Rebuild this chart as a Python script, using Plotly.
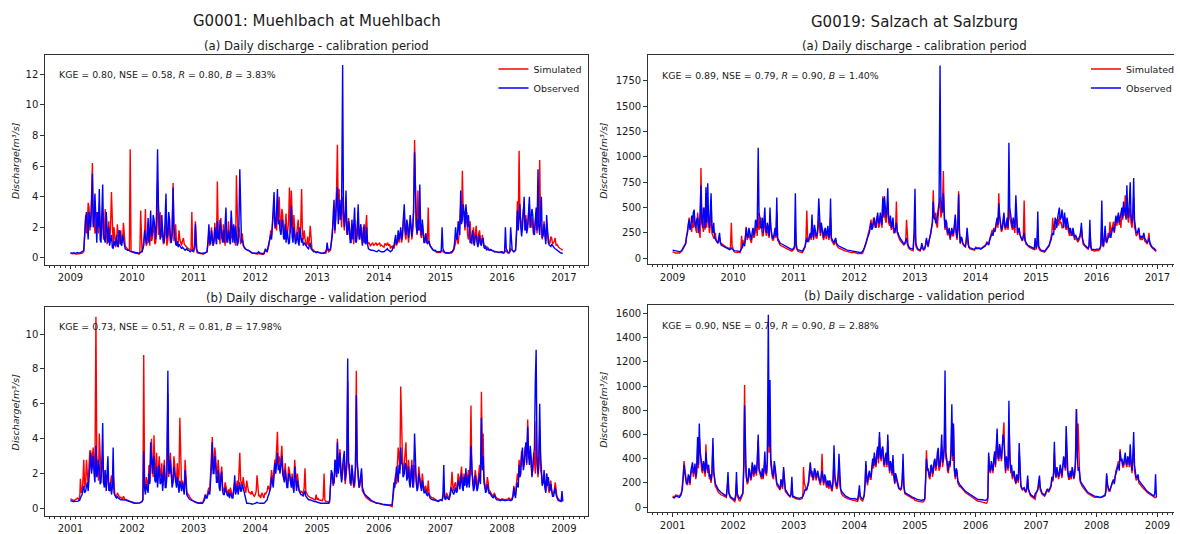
import pandas as pd
import plotly.graph_objects as go

# ---------------- data ----------------
# MAIN values are read on the 1st, 11th and 21st of each month,
# MID values on the 6th, 16th and 26th (one line per year, 12 months x 3 values).
CAL_START = 2009
VAL_START = 2001

# G0001 Muehlbach - calibration 2009-2016 (m3/s)
MUEHL_CAL_SIM = [
    0.3,0.25,0.3, 0.25,0.25,0.25, 0.3,0.3,0.4, 2.8,2.2,3.3, 2.5,6.2,3.0, 1.8,2.5,3.5, 1.3,3.0,1.5, 2.0,1.3,1.0, 4.3,0.8,1.0, 1.0,1.5,1.2, 0.9,2.3,0.8, 0.6,0.5,7.1,
    0.4,0.35,0.3, 0.3,0.25,3.1, 0.4,1.0,3.2, 1.0,1.2,2.0, 1.3,1.8,1.0, 5.0,2.5,1.3, 1.5,1.0,2.5, 1.2,2.0,1.0, 4.9,1.5,1.0, 1.0,1.2,0.8, 1.3,0.8,0.7, 0.6,0.5,3.0,
    0.4,2.4,0.35, 0.3,0.25,0.25, 0.25,0.3,0.4, 1.7,1.0,1.2, 1.2,1.3,5.0, 1.5,2.6,1.2, 1.3,2.0,1.2, 1.5,2.6,1.2, 1.2,5.4,1.0, 1.5,1.2,0.8, 0.6,0.55,0.5, 0.4,0.3,0.3,
    0.25,0.25,0.3, 0.25,0.2,0.25, 0.5,0.4,0.8, 1.8,2.0,3.5, 2.5,3.8,4.0, 2.0,2.8,1.5, 2.9,1.8,4.6, 4.4,1.3,2.0, 1.5,2.5,1.2, 4.5,1.2,1.0, 0.9,0.8,2.1, 0.6,0.5,0.4,
    0.4,0.35,0.3, 0.3,0.3,0.3, 0.8,0.4,0.5, 1.8,3.0,3.0, 7.4,4.5,3.0, 4.0,1.8,3.6, 1.8,2.2,1.3, 1.5,2.5,1.3, 3.0,1.5,1.3, 2.0,1.3,2.8, 0.9,0.8,0.9, 0.8,0.9,0.8,
    0.9,0.8,0.8, 0.7,0.9,1.0, 0.8,0.6,0.7, 0.6,1.2,1.0, 1.0,1.8,1.3, 3.0,1.2,2.0, 1.5,2.0,1.8, 7.7,2.0,4.4, 2.5,1.3,1.5, 1.2,1.0,3.3, 0.8,0.6,0.5, 0.4,0.35,0.35,
    0.35,0.5,0.35, 0.3,0.3,0.3, 0.3,0.35,0.5, 1.0,1.2,1.5, 3.5,5.7,3.0, 2.5,1.5,1.8, 1.2,1.5,1.0, 2.1,1.0,1.8, 1.0,1.2,0.8, 0.6,0.6,0.5, 0.5,0.45,0.4, 0.4,0.35,0.35,
    0.35,0.3,0.5, 0.35,0.3,0.6, 0.5,0.4,0.5, 3.7,7.0,2.5, 2.5,3.0,2.8, 2.2,3.5,2.0, 2.2,1.8,3.0, 3.5,6.4,2.0, 1.8,1.5,2.0, 1.3,1.0,1.3, 1.0,1.3,0.9, 0.7,0.6,0.5,
]
MUEHL_CAL_SIM_MID = [
    0.28,0.27,0.26, 0.25,0.25,0.28, 0.3,0.35,1.5, 1.6,3.6,1.8, 4.0,2.2,1.6, 3.0,1.6,2.0, 2.2,1.2,3.2, 0.9,2.4,1.8, 1.2,2.0,0.7, 2.2,0.9,1.8, 1.2,1.0,0.7, 0.55,0.5,0.45,
    0.38,0.32,0.3, 0.28,0.3,0.5, 0.6,1.5,0.8, 2.2,0.8,1.1, 2.4,0.9,2.0, 1.5,3.0,2.2, 0.9,1.8,0.8, 2.6,1.0,1.8, 1.1,2.2,0.8, 1.8,0.9,1.1, 0.9,0.75,0.65, 0.55,0.5,0.45,
    0.8,0.6,0.32, 0.28,0.25,0.25, 0.28,0.35,0.9, 0.8,2.0,0.8, 2.3,0.9,1.8, 0.9,1.3,2.2, 0.8,1.0,2.4, 0.9,1.3,2.0, 0.8,1.5,2.0, 0.9,1.6,0.7, 0.58,0.52,0.45, 0.35,0.3,0.28,
    0.25,0.27,0.27, 0.22,0.22,0.35, 0.45,0.6,1.2, 1.4,2.8,1.9, 1.8,2.4,2.6, 3.2,1.6,2.2, 1.2,2.4,1.6, 2.2,2.8,1.0, 2.0,1.2,2.2, 1.6,1.8,0.8, 1.4,1.2,0.8, 0.55,0.45,0.35,
    0.37,0.32,0.3, 0.3,0.3,0.5, 0.5,0.45,1.0, 2.5,1.6,4.5, 3.0,2.5,2.0, 2.5,2.6,1.5, 2.6,1.2,2.2, 0.9,1.5,2.0, 1.2,2.2,0.9, 1.0,2.0,1.1, 1.0,0.85,1.0, 0.85,1.0,0.9,
    1.0,0.85,0.75, 0.95,0.8,0.9, 0.9,0.75,0.8, 0.9,0.8,1.6, 1.4,1.0,2.2, 1.5,2.2,1.0, 2.4,1.2,3.0, 2.8,1.5,1.8, 1.5,2.2,1.0, 1.6,1.1,1.0, 0.7,0.55,0.45, 0.38,0.35,0.35,
    0.4,0.4,0.32, 0.3,0.3,0.3, 0.32,0.4,0.7, 1.5,0.9,2.2, 2.4,3.0,1.8, 3.0,1.2,2.4, 0.9,2.0,1.4, 1.2,1.6,1.0, 1.5,0.8,0.7, 0.7,0.55,0.5, 0.48,0.42,0.4, 0.38,0.35,0.35,
    0.32,0.35,0.4, 0.32,0.4,0.55, 0.45,0.45,1.5, 2.2,3.0,1.8, 3.2,1.8,2.0, 2.8,2.0,2.6, 1.5,2.6,1.6, 2.0,2.4,1.2, 2.4,1.1,1.4, 0.9,1.4,0.9, 1.1,0.8,0.75, 0.65,0.55,0.5,
]
MUEHL_CAL_OBS = [
    0.35,0.3,0.35, 0.3,0.35,0.3, 0.35,0.4,0.5, 2.5,1.8,3.0, 2.0,5.5,2.5, 1.5,3.0,4.5, 1.0,4.8,1.2, 3.0,1.0,0.8, 1.5,0.6,0.8, 1.5,0.7,1.7, 0.8,1.2,0.6, 0.5,0.5,0.4,
    0.4,0.4,0.35, 0.35,0.3,0.4, 0.4,0.8,1.2, 1.5,1.0,3.1, 1.5,2.5,1.2, 7.1,2.0,1.5, 1.8,1.2,4.2, 1.5,2.5,1.0, 4.6,1.2,0.8, 0.7,0.8,0.6, 0.6,0.5,0.6, 0.5,0.4,0.5,
    0.5,2.2,0.4, 0.35,0.3,0.3, 0.3,0.35,0.4, 2.2,0.9,1.0, 1.0,1.5,2.4, 1.2,2.0,1.0, 1.0,3.3,1.0, 1.2,3.1,1.0, 1.0,1.5,1.0, 5.8,1.0,0.8, 0.6,0.5,0.5, 0.4,0.35,0.3,
    0.3,0.3,0.4, 0.3,0.25,0.3, 0.6,0.4,1.0, 1.5,2.3,4.3, 2.0,4.5,2.5, 1.5,2.5,1.2, 1.0,1.5,1.0, 3.4,1.0,1.5, 1.2,1.0,2.0, 1.0,0.8,0.9, 0.7,0.6,1.0, 0.5,0.4,0.4,
    0.4,0.35,0.35, 0.3,0.35,0.4, 1.0,0.5,0.6, 1.5,3.8,2.5, 4.6,3.0,2.5, 12.6,2.0,4.4, 1.5,2.0,1.0, 1.2,3.3,1.0, 3.5,1.2,1.0, 1.5,1.0,2.0, 0.6,0.5,0.5, 0.5,0.45,0.4,
    0.5,0.4,0.4, 0.4,0.5,0.6, 0.5,0.4,0.5, 0.8,1.5,1.0, 1.2,2.0,1.5, 3.5,1.5,2.2, 1.8,2.3,2.0, 6.9,2.2,2.5, 4.8,1.5,1.8, 1.0,1.2,1.0, 0.8,0.6,0.5, 0.5,0.4,0.4,
    0.4,2.0,0.4, 0.35,0.35,0.3, 0.4,0.4,0.6, 2.0,1.2,2.0, 4.4,2.5,3.0, 3.5,2.0,1.5, 1.0,1.8,0.8, 1.5,0.7,1.5, 0.8,1.3,0.6, 0.5,0.6,0.5, 0.5,0.4,0.4, 0.4,0.35,0.4,
    0.4,0.35,2.0, 0.4,0.35,2.0, 0.5,0.4,0.5, 3.1,3.0,2.0, 2.0,4.0,2.5, 2.0,4.0,2.5, 2.8,1.5,3.3, 5.8,1.5,4.0, 1.5,1.2,2.8, 1.0,0.8,0.9, 0.7,0.6,0.5, 0.4,0.35,0.3,
]
MUEHL_CAL_OBS_MID = [
    0.32,0.33,0.32, 0.33,0.32,0.33, 0.37,0.45,1.8, 3.0,1.2,2.2, 3.5,2.0,4.2, 1.0,2.0,1.2, 2.5,1.5,1.0, 1.3,2.0,1.2, 0.7,1.1,1.0, 0.8,1.8,0.9, 1.5,0.7,0.55, 0.5,0.45,0.4,
    0.4,0.37,0.35, 0.32,0.35,0.4, 0.6,1.8,0.9, 2.6,1.7,1.4, 2.8,1.4,3.0, 3.5,1.2,2.8, 1.0,2.5,1.3, 3.0,1.3,1.5, 2.0,0.9,1.1, 0.9,0.65,0.7, 0.55,0.55,0.5, 0.45,0.45,0.45,
    0.7,0.6,0.37, 0.32,0.3,0.3, 0.32,0.38,1.0, 1.0,1.8,0.8, 2.0,0.9,1.3, 2.5,1.1,1.8, 2.2,1.2,1.8, 0.9,1.4,2.2, 2.1,0.8,2.2, 1.5,1.2,0.7, 0.55,0.5,0.45, 0.38,0.32,0.3,
    0.3,0.35,0.32, 0.27,0.27,0.45, 0.5,0.7,1.3, 1.2,3.0,2.2, 3.2,2.2,1.8, 2.4,1.3,2.2, 1.8,0.9,2.0, 1.4,2.0,0.9, 1.7,0.8,1.4, 1.3,1.0,0.8, 0.65,0.9,0.6, 0.45,0.4,0.35,
    0.37,0.35,0.32, 0.32,0.38,0.6, 0.6,0.55,1.0, 2.8,1.8,3.9, 2.2,3.8,3.5, 3.0,2.8,1.8, 2.4,1.0,2.5, 2.0,1.1,1.5, 1.5,2.2,0.8, 2.2,0.9,0.9, 0.55,0.5,0.5, 0.48,0.42,0.45,
    0.45,0.4,0.4, 0.45,0.55,0.5, 0.45,0.45,0.7, 1.2,0.9,1.8, 1.5,1.2,2.5, 1.8,2.5,1.3, 2.8,1.4,3.0, 3.0,1.6,1.8, 2.0,2.5,1.0, 1.6,0.9,1.1, 0.7,0.55,0.5, 0.45,0.4,0.4,
    0.5,0.6,0.37, 0.35,0.32,0.35, 0.4,0.5,1.0, 1.3,2.4,1.5, 2.2,3.5,2.0, 2.2,2.8,1.0, 1.6,1.0,1.4, 1.0,1.1,0.9, 1.2,0.7,0.8, 0.55,0.5,0.55, 0.45,0.4,0.4, 0.38,0.38,0.4,
    0.37,0.4,0.6, 0.37,0.4,0.6, 0.45,0.45,1.4, 1.8,3.5,1.4, 2.8,1.8,1.6, 3.0,2.0,3.2, 1.6,2.4,1.8, 2.0,2.6,1.3, 2.2,0.9,1.2, 0.85,0.75,0.8, 0.65,0.55,0.45, 0.38,0.32,0.3,
]

# G0019 Salzach - calibration 2009-2016 (m3/s)
SALZ_CAL_SIM = [
    65,55,50, 55,50,60, 80,110,140, 280,400,320, 380,450,280, 450,250,890, 350,500,500, 500,250,560, 220,200,170, 150,200,130, 130,120,110, 100,95,350,
    70,60,55, 60,55,220, 180,150,310, 220,200,150, 250,220,300, 450,350,300, 220,400,220, 250,400,220, 180,250,450, 160,130,120, 110,100,90, 80,75,70,
    85,300,80, 65,60,55, 80,110,470, 160,220,380, 180,260,200, 400,220,280, 180,250,220, 180,400,160, 130,180,110, 100,90,85, 75,70,65, 65,60,55,
    55,50,45, 45,40,50, 90,140,220, 280,380,320, 380,320,420, 320,380,610, 500,350,550, 320,280,350, 250,560,220, 180,160,140, 140,380,110, 85,80,75,
    300,90,80, 70,120,80, 90,180,110, 220,280,670, 380,330,420, 600,450,860, 280,300,230, 180,280,220, 400,180,660, 140,180,120, 110,250,100, 90,85,80,
    110,100,105, 95,105,115, 130,160,140, 220,280,300, 280,380,640, 320,280,420, 280,350,600, 350,280,300, 500,230,280, 200,170,570, 140,120,110, 100,90,85,
    90,300,80, 70,65,60, 80,100,120, 200,400,330, 320,380,420, 350,300,400, 280,300,220, 220,280,180, 180,160,200, 300,140,120, 100,90,250, 80,75,70,
    80,75,90, 300,110,250, 170,250,360, 280,360,320, 320,420,380, 450,520,620, 550,350,500, 300,600,280, 230,280,180, 180,230,160, 140,250,120, 100,90,70,
]
SALZ_CAL_SIM_MID = [
    60,52,52, 52,55,70, 95,120,200, 320,300,260, 300,320,250, 300,200,420, 260,280,300, 300,320,250, 200,250,160, 170,150,140, 125,115,105, 98,110,120,
    65,58,57, 57,80,100, 130,220,180, 260,160,220, 200,320,220, 280,400,220, 300,260,300, 200,270,180, 220,200,180, 140,125,115, 105,95,85, 78,72,75,
    100,110,70, 62,58,65, 95,200,200, 200,180,230, 300,200,260, 250,300,200, 260,190,280, 230,180,140, 160,130,105, 95,88,80, 72,68,65, 62,58,60,
    52,48,45, 42,45,70, 110,170,250, 320,300,400, 300,400,300, 420,300,400, 380,450,350, 380,300,250, 300,250,200, 170,150,130, 160,150,95, 82,78,200,
    120,85,75, 90,95,85, 130,140,160, 250,350,400, 450,300,500, 400,550,400, 350,230,280, 230,220,300, 250,300,250, 200,140,115, 160,140,95, 88,82,80,
    105,100,100, 100,110,125, 145,150,180, 260,240,260, 330,300,400, 260,350,300, 320,280,400, 300,330,250, 300,260,230, 180,220,200, 130,115,105, 95,88,90,
    120,100,75, 68,62,70, 90,110,160, 250,280,280, 380,320,350, 300,350,320, 330,250,260, 250,220,200, 170,180,220, 180,130,110, 95,120,100, 78,72,75,
    78,80,120, 130,180,160, 210,200,250, 320,250,380, 370,330,300, 380,420,400, 400,450,350, 400,300,220, 260,200,210, 200,170,150, 180,140,110, 95,80,70,
]
SALZ_CAL_OBS = [
    80,75,70, 70,65,70, 90,120,150, 250,380,300, 350,480,300, 400,300,720, 300,450,700, 740,300,640, 250,200,180, 150,250,130, 120,110,100, 90,85,100,
    80,75,70, 70,65,100, 150,120,300, 200,250,180, 300,250,350, 1090,400,300, 250,500,250, 300,500,250, 200,300,600, 180,150,140, 130,120,110, 100,90,85,
    100,640,90, 80,75,70, 90,120,200, 180,250,430, 200,280,220, 590,250,300, 200,300,250, 200,590,180, 150,200,130, 120,110,100, 90,85,80, 80,75,70,
    70,65,60, 60,55,70, 100,150,200, 250,350,300, 400,300,450, 350,400,590, 610,400,690, 350,300,400, 250,350,250, 200,180,150, 150,200,120, 100,95,90,
    685,100,90, 80,150,90, 100,200,120, 200,300,560, 400,350,450, 1900,500,640, 300,350,250, 200,300,250, 430,200,630, 150,200,130, 120,300,110, 100,95,90,
    100,95,100, 90,100,110, 120,150,130, 200,250,280, 300,400,540, 350,300,450, 300,400,1140, 400,300,350, 620,250,300, 200,180,250, 150,130,120, 110,100,95,
    100,460,90, 80,75,70, 90,110,130, 180,250,300, 350,400,500, 400,350,450, 300,350,250, 250,300,200, 200,180,220, 350,150,130, 110,100,380, 90,85,80,
    90,85,100, 570,120,320, 150,200,250, 250,300,350, 350,450,400, 500,560,500, 720,400,750, 350,790,300, 250,300,200, 200,250,180, 150,200,130, 110,100,80,
]
SALZ_CAL_OBS_MID = [
    78,72,70, 68,68,80, 100,135,220, 330,280,420, 450,330,380, 250,450,350, 500,300,350, 380,450,320, 350,190,160, 200,160,125, 115,105,95, 88,90,90,
    78,72,70, 68,80,110, 130,200,220, 300,200,260, 230,380,300, 450,300,400, 350,280,350, 220,300,200, 250,220,200, 160,145,135, 125,115,105, 95,88,90,
    120,150,85, 78,72,80, 100,160,160, 220,200,250, 330,220,300, 300,350,230, 280,220,320, 250,200,160, 180,150,125, 115,105,95, 88,82,80, 78,72,70,
    68,62,60, 58,60,85, 120,180,230, 300,280,350, 330,380,350, 450,330,420, 450,500,400, 420,330,300, 300,260,220, 190,165,140, 170,140,110, 98,92,250,
    150,95,85, 100,110,95, 140,150,170, 240,350,400, 350,420,550, 600,450,400, 380,250,300, 250,240,320, 260,320,260, 210,150,125, 180,150,105, 98,92,95,
    98,95,95, 95,105,115, 135,140,170, 230,220,260, 350,330,420, 280,380,320, 350,300,500, 330,400,300, 350,280,230, 190,220,170, 140,125,115, 105,98,200,
    140,120,85, 78,72,80, 100,120,160, 220,230,400, 300,450,380, 480,300,380, 400,280,300, 220,250,230, 190,200,260, 200,140,120, 105,120,110, 88,82,85,
    88,90,130, 150,200,180, 180,230,200, 300,260,420, 400,350,450, 400,450,380, 450,550,420, 450,380,250, 280,230,220, 220,200,170, 170,160,120, 105,90,80,
]

# G0001 Muehlbach - validation 2001-2008 (m3/s)
MUEHL_VAL_SIM = [
    0.55,0.5,0.45, 0.5,0.6,0.5, 1.7,1.0,2.8, 1.5,2.0,2.5, 3.3,3.0,2.5, 11.0,2.5,4.3, 1.8,3.0,1.4, 1.2,2.0,1.2, 1.9,2.0,0.8, 0.7,0.8,0.6, 0.6,0.7,0.5, 0.5,0.45,0.4,
    0.35,0.3,0.3, 0.3,0.3,0.35, 0.4,8.8,1.0, 1.5,2.5,3.0, 2.5,4.2,2.0, 1.5,3.0,1.8, 1.3,2.8,1.5, 6.6,2.5,2.0, 2.0,2.4,1.6, 1.5,5.2,1.2, 1.3,2.8,1.0, 0.8,0.6,0.5,
    0.4,0.35,0.3, 0.3,0.35,0.3, 0.5,0.8,0.7, 1.2,1.8,4.1, 2.5,3.0,2.0, 1.5,2.0,1.3, 1.0,1.3,0.9, 0.8,1.0,0.8, 1.5,1.3,1.0, 3.2,1.5,1.8, 1.2,1.6,1.0, 0.9,1.0,0.8,
    0.8,1.9,0.7, 0.6,0.9,0.6, 0.8,1.0,1.2, 1.5,1.8,2.2, 2.5,4.4,3.0, 3.0,2.5,2.0, 1.8,1.5,2.2, 1.5,1.2,2.8, 1.3,1.5,1.0, 1.0,0.8,2.3, 0.8,0.7,0.6, 0.6,0.5,0.5,
    0.5,0.5,0.45, 0.45,2.0,0.4, 0.4,0.35,1.3, 1.8,1.5,2.8, 4.0,3.0,2.5, 2.0,2.8,1.8, 7.3,2.0,1.3, 1.8,1.3,7.9, 1.8,1.3,2.0, 0.9,0.7,0.6, 0.5,0.45,0.4, 0.35,0.3,0.3,
    0.3,0.25,0.25, 0.2,0.2,0.2, 0.2,0.15,0.1, 1.2,2.0,2.5, 3.0,7.0,3.0, 2.5,3.8,2.0, 1.8,2.2,1.5, 2.5,1.8,1.5, 1.8,1.3,1.5, 1.2,1.0,1.6, 0.7,0.6,0.6, 0.5,0.45,0.45,
    0.5,0.5,1.0, 0.6,0.7,0.6, 1.0,2.1,1.0, 1.5,1.2,1.8, 1.8,1.5,2.0, 2.0,1.8,1.5, 5.9,1.8,1.5, 1.8,1.5,2.5, 6.7,4.3,1.5, 1.2,1.5,1.0, 0.8,0.7,0.7, 0.6,0.55,0.5,
    0.55,0.5,0.5, 0.5,0.6,0.5, 0.6,1.3,0.8, 2.0,2.8,2.5, 3.0,2.8,3.5, 5.1,2.8,2.5, 2.2,2.8,5.0, 1.8,4.5,2.0, 1.5,1.3,2.0, 1.2,1.3,1.0, 0.9,1.5,0.7, 0.5,0.45,0.5,
]
MUEHL_VAL_SIM_MID = [
    0.52,0.48,0.48, 0.55,0.55,0.8, 0.9,1.6,1.2, 2.8,1.2,3.3, 2.2,3.5,1.8, 3.0,1.6,2.2, 2.6,1.5,2.2, 1.8,1.0,1.5, 1.2,1.0,0.7, 0.9,0.65,0.65, 0.55,0.6,0.5, 0.48,0.42,0.38,
    0.32,0.3,0.3, 0.3,0.32,0.38, 0.5,1.5,1.8, 1.2,1.5,4.0, 1.8,2.2,3.2, 2.5,2.0,2.6, 2.0,1.6,2.2, 1.8,3.2,1.5, 3.0,1.5,2.6, 2.0,1.8,1.6, 1.1,1.2,0.8, 0.7,0.55,0.45,
    0.38,0.32,0.3, 0.32,0.32,0.4, 0.6,0.6,1.0, 1.0,2.8,2.2, 3.5,2.0,2.8, 1.2,2.4,1.0, 1.5,0.9,1.1, 1.2,0.7,1.2, 0.9,1.6,1.8, 1.6,1.2,1.4, 0.9,1.1,0.9, 0.8,0.85,0.7,
    1.0,0.9,0.75, 0.8,0.7,0.9, 0.9,1.3,1.0, 2.2,1.4,2.8, 3.2,2.6,2.2, 3.6,1.8,2.6, 1.4,2.4,1.6, 2.0,1.0,1.8, 2.0,1.1,0.9, 0.9,1.2,1.0, 0.75,0.65,0.6, 0.55,0.5,0.8,
    0.6,0.48,0.45, 0.6,0.5,0.4, 0.38,0.5,2.0, 1.3,2.4,1.8, 2.2,3.4,1.6, 2.6,1.4,2.4, 2.5,1.5,2.2, 1.2,2.4,2.5, 1.2,1.8,1.0, 0.8,0.65,0.55, 0.48,0.42,0.38, 0.32,0.3,0.3,
    0.28,0.25,0.22, 0.2,0.2,0.2, 0.18,0.12,0.6, 1.6,1.4,3.5, 2.2,3.5,1.8, 3.0,2.0,2.8, 1.3,2.8,1.2, 2.0,1.2,2.4, 1.2,2.0,1.0, 1.3,0.9,0.9, 0.65,0.6,0.55, 0.48,0.45,0.48,
    0.5,0.6,0.7, 0.9,0.65,0.8, 1.4,1.2,1.4, 1.0,2.0,1.3, 2.4,1.3,1.6, 1.4,2.2,2.4, 2.0,1.3,2.2, 1.2,2.0,1.6, 2.5,1.8,1.1, 1.8,1.0,0.85, 0.75,0.9,0.65, 0.58,0.52,0.5,
    0.52,0.5,0.52, 0.55,0.55,0.55, 0.8,0.9,1.4, 1.6,2.0,3.3, 2.4,3.5,2.5, 3.0,3.2,1.9, 3.2,2.0,2.5, 2.6,2.2,1.4, 1.9,1.0,1.4, 0.9,1.6,0.8, 1.1,0.8,0.6, 0.48,0.45,0.45,
]
MUEHL_VAL_OBS = [
    0.45,0.4,0.4, 0.4,0.4,0.45, 0.6,0.8,1.3, 1.0,1.5,2.0, 3.2,2.5,2.0, 3.6,2.0,2.3, 1.5,4.9,1.2, 1.0,3.0,1.0, 0.8,3.5,0.7, 0.6,0.6,0.55, 0.5,0.5,0.5, 0.45,0.4,0.4,
    0.35,0.35,0.3, 0.3,0.3,0.35, 0.4,3.3,0.8, 1.2,2.0,3.8, 2.0,3.0,1.5, 1.2,2.5,1.5, 1.0,2.5,1.2, 7.9,2.0,1.5, 1.5,2.0,1.2, 1.2,1.6,1.0, 1.0,2.2,0.8, 0.6,0.5,0.45,
    0.4,0.35,0.3, 0.3,0.3,0.3, 0.4,0.8,0.6, 1.0,1.5,3.8, 2.0,2.5,1.5, 1.2,1.8,1.0, 0.8,1.0,0.7, 0.6,0.8,0.6, 1.9,1.0,0.8, 1.5,1.0,1.2, 0.8,0.3,0.3, 0.3,0.25,0.25,
    0.3,0.35,0.3, 0.3,0.3,0.3, 0.4,0.5,0.8, 1.2,1.5,2.0, 2.0,3.2,2.5, 2.5,2.0,1.5, 1.5,1.2,2.0, 1.2,1.0,2.4, 1.0,1.2,0.9, 0.8,0.7,1.0, 0.6,0.5,0.5, 0.45,0.4,0.4,
    0.35,0.3,0.3, 0.3,0.3,0.3, 0.3,0.3,1.5, 2.0,1.5,2.5, 3.8,2.5,2.0, 2.5,3.3,2.0, 8.6,2.5,1.5, 2.0,1.5,6.5, 2.0,1.5,2.3, 1.0,0.8,0.7, 0.6,0.5,0.45, 0.4,0.35,0.3,
    0.3,0.3,0.25, 0.25,0.25,0.2, 0.2,0.2,0.2, 1.5,1.8,2.0, 2.5,3.5,2.5, 2.0,2.5,1.8, 1.5,2.0,1.2, 4.3,1.5,1.2, 1.5,1.0,1.2, 0.9,0.8,0.9, 0.6,0.5,0.5, 0.45,0.4,0.4,
    0.5,0.45,2.5, 0.5,0.6,0.5, 0.8,1.0,0.8, 1.2,1.0,1.5, 1.5,1.2,1.8, 2.3,1.5,1.2, 3.6,1.5,1.2, 1.5,1.2,2.0, 5.2,3.0,1.2, 1.0,1.2,0.9, 0.7,0.6,0.6, 0.5,0.5,0.45,
    0.5,0.45,0.45, 0.45,0.5,0.45, 0.5,1.2,0.6, 1.5,2.5,2.0, 3.5,2.5,3.8, 4.7,2.5,3.0, 2.5,3.5,9.1, 2.0,6.0,2.5, 1.5,1.2,2.0, 1.8,1.0,0.8, 0.7,1.2,0.6, 0.45,0.4,1.0,
]
MUEHL_VAL_OBS_MID = [
    0.42,0.4,0.4, 0.4,0.42,0.5, 0.7,1.1,0.9, 1.3,1.0,2.8, 2.0,3.0,1.5, 1.8,2.8,1.4, 2.5,1.5,2.2, 1.8,1.2,1.5, 1.2,0.9,0.65, 0.7,0.55,0.5, 0.5,0.5,0.48, 0.42,0.4,0.38,
    0.35,0.32,0.3, 0.3,0.32,0.38, 0.5,1.2,1.4, 0.9,1.4,2.6, 2.8,1.6,2.4, 2.0,1.4,2.0, 1.8,1.2,1.8, 2.2,2.8,1.2, 2.4,1.3,1.8, 0.9,1.2,1.5, 0.8,1.1,0.7, 0.55,0.48,0.42,
    0.37,0.32,0.3, 0.3,0.3,0.35, 0.5,0.6,0.8, 0.8,2.4,2.0, 3.0,1.5,2.2, 1.0,2.1,0.8, 1.2,0.75,0.9, 0.9,0.6,1.0, 0.8,1.3,1.4, 1.0,1.4,0.9, 0.5,0.3,0.3, 0.28,0.25,0.28,
    0.32,0.32,0.3, 0.3,0.3,0.35, 0.45,0.7,1.0, 1.8,1.2,2.6, 2.8,2.2,2.0, 3.0,1.6,2.2, 1.2,2.0,1.4, 1.8,0.9,1.6, 1.6,1.0,0.8, 0.75,0.9,0.7, 0.55,0.5,0.48, 0.42,0.4,0.38,
    0.32,0.3,0.3, 0.3,0.3,0.3, 0.3,0.4,2.2, 1.4,2.8,1.8, 2.0,3.2,1.5, 3.0,1.6,3.0, 2.6,1.4,2.5, 1.3,2.4,2.8, 1.2,2.0,1.2, 0.9,0.75,0.65, 0.55,0.48,0.42, 0.38,0.32,0.3,
    0.3,0.28,0.25, 0.25,0.22,0.2, 0.2,0.2,0.8, 1.2,2.4,1.5, 2.0,2.6,1.8, 2.6,1.6,2.4, 1.2,2.5,1.6, 2.2,1.0,2.0, 1.1,1.6,0.9, 1.1,0.75,0.7, 0.55,0.5,0.48, 0.42,0.4,0.45,
    0.48,0.8,0.6, 0.7,0.55,0.7, 1.2,0.9,1.1, 0.9,1.6,1.1, 2.0,1.0,1.3, 1.2,1.9,2.0, 1.8,1.0,1.9, 1.0,1.6,1.4, 2.2,1.5,0.9, 1.4,0.85,0.75, 0.65,0.8,0.55, 0.5,0.48,0.5,
    0.48,0.45,0.45, 0.48,0.48,0.48, 0.7,0.8,1.2, 1.2,1.8,3.0, 2.2,3.2,2.6, 3.2,3.6,1.8, 3.0,7.3,3.0, 3.0,3.2,1.3, 2.2,0.9,1.3, 1.1,1.4,0.7, 0.9,0.8,0.5, 0.42,0.4,0.4,
]

# G0019 Salzach - validation 2001-2008 (m3/s)
SALZ_VAL_SIM = [
    90,85,100, 95,90,110, 170,380,250, 180,230,270, 330,280,230, 500,580,380, 280,320,520, 280,230,200, 500,200,160, 130,110,100, 95,85,80, 250,80,70,
    55,45,200, 60,50,80, 110,1010,230, 200,280,230, 280,330,260, 550,280,230, 230,380,260, 900,600,280, 230,300,180, 160,140,180, 300,130,110, 90,80,200,
    80,70,65, 60,65,70, 330,160,140, 220,360,280, 230,280,260, 230,180,440, 180,230,160, 150,180,130, 400,180,160, 350,130,100, 85,75,70, 65,60,55,
    55,50,45, 120,55,50, 90,350,180, 280,230,380, 420,330,480, 580,380,480, 330,420,550, 280,320,400, 190,230,170, 140,150,380, 110,100,90, 80,75,70,
    55,50,45, 45,40,45, 60,470,320, 230,330,280, 380,330,450, 330,500,380, 800,380,280, 330,700,650, 230,280,180, 170,150,140, 120,110,100, 90,80,70,
    55,50,45, 45,40,35, 30,35,420, 280,330,380, 330,600,380, 430,480,700, 280,330,700, 280,230,280, 190,230,450, 170,140,150, 120,230,110, 90,80,70,
    110,140,230, 110,100,90, 120,140,130, 170,210,450, 240,280,260, 280,330,410, 550,280,230, 230,280,260, 810,690,230, 180,160,140, 120,110,100, 90,85,80,
    85,80,75, 80,85,95, 260,140,130, 190,230,260, 320,380,480, 380,330,420, 330,380,450, 280,500,260, 230,200,180, 170,150,140, 120,110,100, 90,80,80,
]
SALZ_VAL_SIM_MID = [
    88,92,98, 92,100,140, 260,300,200, 250,180,300, 250,330,280, 320,400,300, 350,250,320, 320,250,260, 280,170,140, 120,105,98, 90,82,150, 110,75,65,
    50,80,90, 55,60,100, 300,350,190, 300,220,350, 250,280,350, 300,250,300, 300,280,350, 450,350,250, 350,230,170, 150,200,150, 160,120,100, 85,100,80,
    75,68,62, 62,68,120, 200,150,180, 300,250,220, 300,220,280, 200,250,220, 250,170,200, 200,140,200, 220,150,250, 180,110,90, 80,72,68, 62,58,55,
    52,48,80, 70,52,70, 180,220,250, 230,300,320, 350,420,360, 420,450,350, 400,330,380, 350,260,260, 260,180,150, 140,220,160, 105,95,85, 78,72,68,
    52,48,45, 42,42,50, 200,300,250, 320,250,350, 300,420,300, 420,330,480, 400,300,360, 450,380,300, 300,200,170, 160,145,130, 115,105,95, 85,75,65,
    52,48,45, 42,38,32, 32,60,300, 350,280,420, 450,400,500, 380,560,400, 400,300,380, 320,250,220, 250,200,220, 150,145,130, 150,140,100, 85,75,65,
    120,170,140, 105,95,100, 135,125,150, 230,260,280, 300,230,320, 240,380,300, 330,230,280, 300,230,350, 400,300,200, 170,150,130, 115,105,95, 88,82,80,
    82,78,78, 82,90,130, 170,130,160, 220,200,300, 360,320,400, 330,380,350, 400,330,350, 400,300,220, 250,190,170, 160,145,130, 115,105,95, 85,78,75,
]
SALZ_VAL_OBS = [
    80,75,90, 85,80,100, 150,350,220, 200,250,300, 370,300,250, 580,690,400, 300,350,450, 300,250,220, 570,220,180, 150,130,120, 110,100,90, 290,90,80,
    70,60,290, 80,70,90, 120,840,250, 220,300,250, 300,350,280, 600,300,250, 250,460,280, 1590,1050,300, 250,330,200, 180,150,200, 330,150,120, 100,90,250,
    90,80,75, 70,75,80, 100,150,150, 200,370,300, 250,300,280, 250,200,300, 200,250,180, 170,200,150, 510,200,180, 440,150,120, 100,90,80, 75,70,65,
    70,65,60, 180,70,65, 100,380,200, 300,250,400, 450,350,500, 620,400,500, 350,450,600, 300,350,430, 200,250,180, 150,160,440, 120,110,100, 90,85,80,
    70,65,60, 60,55,60, 70,400,300, 250,350,300, 400,350,490, 350,600,400, 1130,400,300, 350,850,690, 250,300,200, 180,160,150, 130,120,110, 100,90,80,
    70,65,60, 60,60,55, 55,60,450, 300,350,400, 350,650,400, 450,500,550, 300,350,880, 300,250,300, 200,250,530, 180,150,160, 130,260,120, 100,90,80,
    120,150,260, 120,110,100, 130,150,140, 180,220,540, 250,300,280, 300,350,350, 670,300,250, 250,300,280, 810,300,250, 200,180,150, 130,120,110, 100,95,90,
    90,85,80, 85,90,100, 280,150,140, 180,220,250, 300,350,460, 400,350,450, 350,400,520, 300,620,280, 250,220,200, 180,160,150, 130,120,110, 100,90,270,
]
SALZ_VAL_OBS_MID = [
    78,82,88, 82,90,130, 240,280,190, 270,200,330, 280,360,300, 350,450,320, 380,280,350, 350,270,280, 300,190,160, 140,125,115, 105,95,160, 120,85,75,
    65,100,110, 75,80,110, 350,380,210, 320,240,370, 270,300,380, 320,270,320, 320,300,380, 500,400,270, 380,250,190, 160,230,170, 180,135,110, 95,110,90,
    85,78,72, 72,78,90, 120,140,180, 280,270,240, 320,240,300, 220,260,240, 270,200,220, 220,160,220, 260,170,260, 200,130,110, 95,85,78, 72,68,68,
    68,62,100, 90,68,80, 200,240,260, 250,330,340, 380,450,400, 450,480,380, 420,350,400, 380,280,280, 280,200,160, 150,230,180, 115,105,95, 88,82,78,
    68,62,60, 58,58,62, 220,330,260, 340,280,380, 330,450,330, 450,370,500, 450,330,380, 480,420,320, 320,220,190, 170,155,140, 125,115,105, 95,85,75,
    68,62,60, 60,58,55, 58,80,320, 380,300,460, 480,420,520, 400,600,420, 420,320,400, 350,270,240, 270,220,240, 160,155,140, 160,150,110, 95,85,110,
    130,190,160, 115,105,110, 140,135,160, 250,280,300, 330,250,350, 260,420,320, 380,250,300, 330,240,380, 450,330,210, 190,165,140, 125,115,105, 98,92,90,
    88,82,82, 88,95,150, 180,140,170, 210,190,290, 330,300,380, 350,400,370, 420,350,380, 420,350,240, 270,210,190, 170,155,140, 125,115,105, 95,110,80,
]

STATION_TITLES = ["G0001: Muehlbach at Muehlbach", "G0019: Salzach at Salzburg"]
PANEL_TITLES = ["(a) Daily discharge - calibration period", "(b) Daily discharge - validation period"]
Y_LABEL = "Discharge[m³/s]"
METRICS = {
    "A": ("0.80", "0.58", "0.80", "3.83%"),
    "B": ("0.89", "0.79", "0.90", "1.40%"),
    "C": ("0.73", "0.51", "0.81", "17.98%"),
    "D": ("0.90", "0.79", "0.90", "2.88%"),
}
YTICKS = {
    "A": [0, 2, 4, 6, 8, 10, 12],
    "B": [0, 250, 500, 750, 1000, 1250, 1500, 1750],
    "C": [0, 2, 4, 6, 8, 10],
    "D": [0, 200, 400, 600, 800, 1000, 1200, 1400, 1600],
}


def date_grid(y0):
    return [pd.Timestamp(y, m, d) for y in range(y0, y0 + 8) for m in range(1, 13)
            for d in (1, 6, 11, 16, 21, 26)]


def merge(main, mid):
    n = min(len(main), len(mid))
    out = []
    for i in range(n):
        out.append(main[i])
        out.append(mid[i])
    return out


W, H = 1180, 534
FONT = "DejaVu Sans"
RED, BLUE = "#ff0000", "#0000ff"
AX = "#333333"
TXT = "#1a1a1a"


def px_x(p):
    return p / W


def px_y(p):
    return 1 - p / H


# panel geometry (pixels): left, right, top, bottom
PANELS = {
    "A": dict(ax="", box=(45, 591, 55.7, 267.3), xr=("2008-08-02", "2017-05-24"), yr=(-0.45, 13.25), y0=CAL_START,
              sim=(MUEHL_CAL_SIM, MUEHL_CAL_SIM_MID), obs=(MUEHL_CAL_OBS, MUEHL_CAL_OBS_MID), legend="legend", left=True),
    "B": dict(ax="2", box=(651, 1180, 56.0, 266.8), xr=("2008-08-04", "2017-04-11"), yr=(-60, 2000), y0=CAL_START,
              sim=(SALZ_CAL_SIM, SALZ_CAL_SIM_MID), obs=(SALZ_CAL_OBS, SALZ_CAL_OBS_MID), legend="legend2", left=False),
    "C": dict(ax="3", box=(45, 591, 310, 520.7), xr=("2000-08-02", "2009-05-24"), yr=(-0.42, 11.55), y0=VAL_START,
              sim=(MUEHL_VAL_SIM, MUEHL_VAL_SIM_MID), obs=(MUEHL_VAL_OBS, MUEHL_VAL_OBS_MID), legend=None, left=True),
    "D": dict(ax="4", box=(651, 1180, 308.3, 517.3), xr=("2000-08-04", "2009-04-11"), yr=(-45, 1668), y0=VAL_START,
              sim=(SALZ_VAL_SIM, SALZ_VAL_SIM_MID), obs=(SALZ_VAL_OBS, SALZ_VAL_OBS_MID), legend=None, left=False),
}

fig = go.Figure()
layout = dict(
    width=W, height=H, margin=dict(l=0, r=0, t=0, b=0),
    paper_bgcolor="white", plot_bgcolor="white",
    font=dict(family=FONT, color=TXT, size=10),
    annotations=[], shapes=[],
)

for key, p in PANELS.items():
    ax = p["ax"]
    xa, ya = "x" + ax, "y" + ax
    dates = date_grid(p["y0"])
    sim = merge(*p["sim"])
    obs = merge(*p["obs"])
    show = p["legend"] is not None
    fig.add_trace(go.Scatter(x=dates[:len(sim)], y=sim, mode="lines", name="Simulated",
                             line=dict(color=RED, width=1.4), xaxis=xa, yaxis=ya,
                             showlegend=show, legend=p["legend"] if show else None))
    fig.add_trace(go.Scatter(x=dates[:len(obs)], y=obs, mode="lines", name="Observed",
                             line=dict(color=BLUE, width=1.4), xaxis=xa, yaxis=ya,
                             showlegend=show, legend=p["legend"] if show else None))
    l, r, t, b = p["box"]
    layout["xaxis" + ax] = dict(
        domain=[px_x(l), px_x(r)], anchor=ya, type="date", range=list(p["xr"]),
        tick0=f"{p['y0']}-01-01", dtick="M12", tickformat="%Y",
        ticks="outside", ticklen=3.5, tickwidth=0.8, tickcolor=AX,
        minor=dict(dtick="M1", tick0=f"{p['y0']}-01-01", ticks="outside", ticklen=2, tickwidth=0.6, tickcolor=AX),
        showline=True, linecolor=AX, linewidth=1, mirror=True,
        showgrid=False, zeroline=False, tickfont=dict(size=10, family=FONT, color=TXT),
    )
    layout["yaxis" + ax] = dict(
        domain=[px_y(b), px_y(t)], anchor=xa, range=list(p["yr"]),
        tickvals=YTICKS[key], ticks="outside", ticklen=3.5, tickwidth=0.8, tickcolor=AX,
        showline=True, linecolor=AX, linewidth=1, mirror=p["left"],
        showgrid=False, zeroline=False, tickfont=dict(size=10, family=FONT, color=TXT),
    )
    kge, nse, rr, bb = METRICS[key]
    layout["annotations"].append(dict(
        text=f"KGE = {kge}, NSE = {nse}, <i>R</i> = {rr}, <i>B</i> = {bb}",
        xref="paper", yref="paper", x=px_x(l + 12.5), y=px_y(t + 20), xanchor="left", yanchor="middle",
        showarrow=False, font=dict(size=9.4, family=FONT, color=TXT)))
    # y-axis label
    label_x = 16 if p["left"] else 607
    layout["annotations"].append(dict(
        text=Y_LABEL, textangle=-90,
        xref="paper", yref="paper", x=px_x(label_x), y=px_y((t + b) / 2), xanchor="center", yanchor="middle",
        showarrow=False, font=dict(size=9.5, family=FONT, color=TXT, style="italic")))
    # panel subtitle
    cx = (l + r) / 2 if p["left"] else (l + 1187.5) / 2
    sub = PANEL_TITLES[0] if key in ("A", "B") else PANEL_TITLES[1]
    layout["annotations"].append(dict(
        text=sub, xref="paper", yref="paper", x=px_x(cx), y=px_y(t - 9.5), xanchor="center", yanchor="middle",
        showarrow=False, font=dict(size=11.7, family=FONT, color=TXT)))

# station titles
layout["annotations"].append(dict(text=STATION_TITLES[0], xref="paper", yref="paper", x=px_x(319), y=px_y(21),
                                  xanchor="center", yanchor="middle", showarrow=False,
                                  font=dict(size=15, family=FONT, color=TXT)))
layout["annotations"].append(dict(text=STATION_TITLES[1], xref="paper", yref="paper", x=px_x(919), y=px_y(22),
                                  xanchor="center", yanchor="middle", showarrow=False,
                                  font=dict(size=15, family=FONT, color=TXT)))

leg_common = dict(xanchor="left", yanchor="top", bgcolor="rgba(0,0,0,0)", borderwidth=0,
                  font=dict(size=9.5, family=FONT, color=TXT), tracegroupgap=0, itemwidth=30)
layout["legend"] = dict(x=px_x(496), y=px_y(55), **leg_common)
layout["legend2"] = dict(x=px_x(1092), y=px_y(55), **leg_common)

fig.update_layout(**layout)
fig.write_html("out.html")
